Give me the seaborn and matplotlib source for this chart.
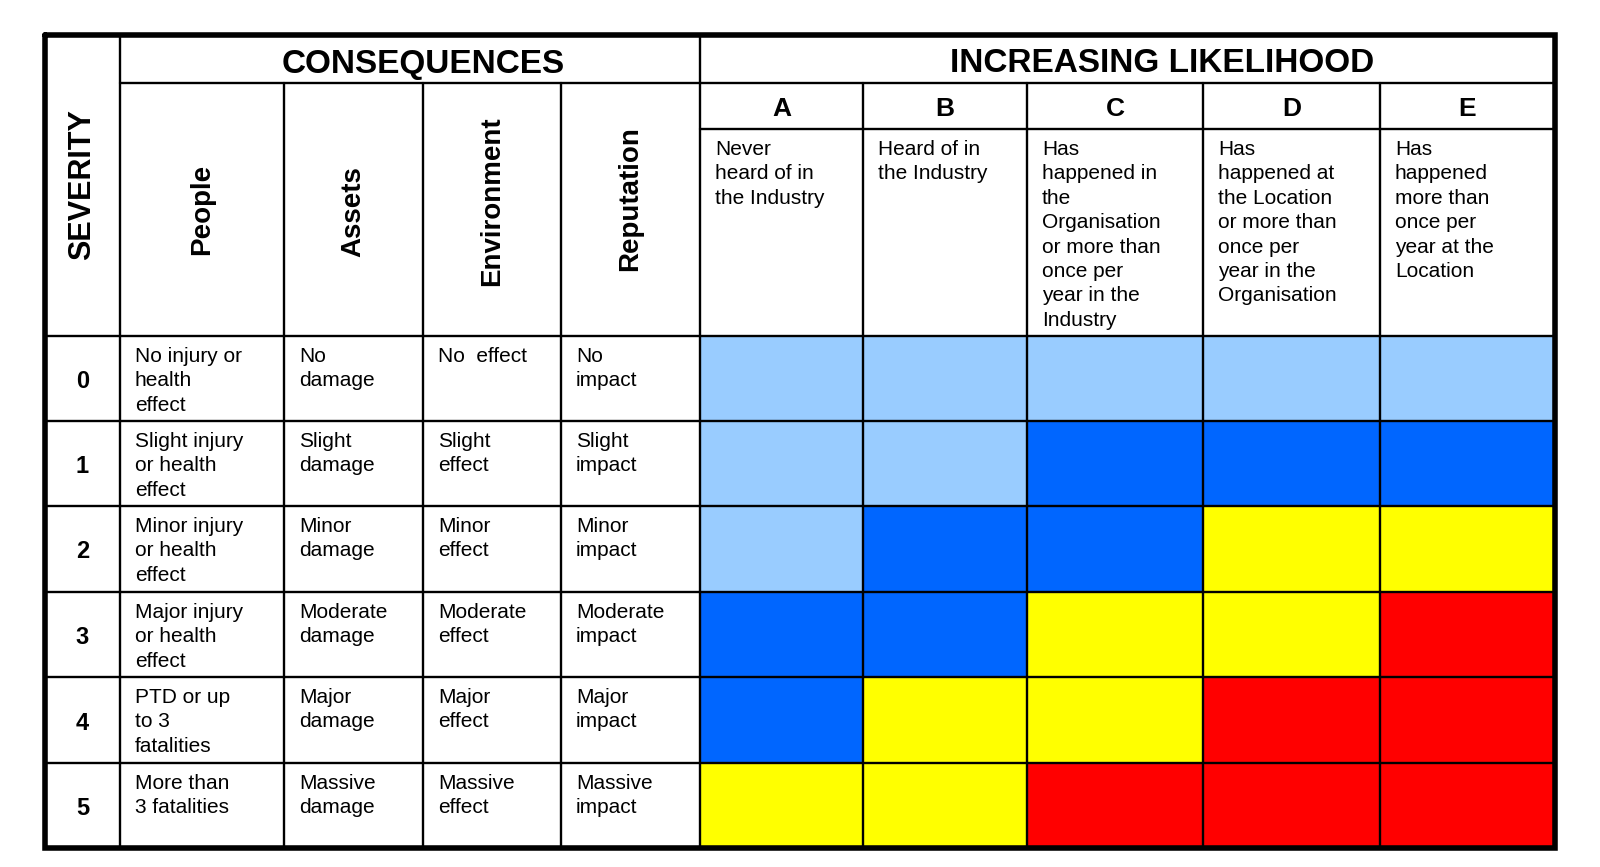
import numpy as np
import pandas as pd
import matplotlib
matplotlib.use("Agg")
import matplotlib.pyplot as plt
from matplotlib.colors import ListedColormap
import seaborn as sns

sns.set_theme(style="white")
plt.rcParams['font.family'] = ['Liberation Sans', 'DejaVu Sans']
plt.rcParams['text.color'] = 'black'

# ---- data ----
severity = ['0', '1', '2', '3', '4', '5']
consequence_cols = ['People', 'Assets', 'Environment', 'Reputation']
people = ['No injury or\nhealth\neffect', 'Slight injury\nor health\neffect',
          'Minor injury\nor health\neffect', 'Major injury\nor health\neffect',
          'PTD or up\nto 3\nfatalities', 'More than\n3 fatalities']
assets = ['No\ndamage', 'Slight\ndamage', 'Minor\ndamage', 'Moderate\ndamage',
          'Major\ndamage', 'Massive\ndamage']
environment = ['No  effect', 'Slight\neffect', 'Minor\neffect', 'Moderate\neffect',
               'Major\neffect', 'Massive\neffect']
reputation = ['No\nimpact', 'Slight\nimpact', 'Minor\nimpact', 'Moderate\nimpact',
              'Major\nimpact', 'Massive\nimpact']
likelihood = ['A', 'B', 'C', 'D', 'E']
likelihood_desc = ['Never\nheard of in\nthe Industry',
                   'Heard of in\nthe Industry',
                   'Has\nhappened in\nthe\nOrganisation\nor more than\nonce per\nyear in the\nIndustry',
                   'Has\nhappened at\nthe Location\nor more than\nonce per\nyear in the\nOrganisation',
                   'Has\nhappened\nmore than\nonce per\nyear at the\nLocation']
# 0 = light blue, 1 = blue, 2 = yellow, 3 = red
risk = [[0, 0, 0, 0, 0],
        [0, 0, 1, 1, 1],
        [0, 1, 1, 2, 2],
        [1, 1, 2, 2, 3],
        [1, 2, 2, 3, 3],
        [2, 2, 3, 3, 3]]
risk_colors = ['#99CCFF', '#0066FF', '#FFFF00', '#FF0000']

# ---- layout (pixels) ----
W, H = 1600, 867
left, right, top, bottom = 45, 1555, 35, 848
sev_x = 120
cons_x = [120, 284, 423, 561, 700]
like_x = [700, 863, 1027, 1203, 1380, 1555]
hdr1_y, hdr2_y, hdr3_y = 83, 129, 336
row_y = [336, 421, 506, 592, 677, 763, 848]

fig = plt.figure(figsize=(W / 100, H / 100), dpi=100)

# risk cells via seaborn heatmap, on an axes covering the likelihood block
hax = fig.add_axes([like_x[0] / W, 1 - row_y[-1] / H,
                    (like_x[-1] - like_x[0]) / W, (row_y[-1] - row_y[0]) / H])
df = pd.DataFrame(risk, index=severity, columns=likelihood)
sns.heatmap(df, ax=hax, cmap=ListedColormap(risk_colors), vmin=-0.5, vmax=3.5,
            cbar=False, xticklabels=False, yticklabels=False, linewidths=0)
xi = np.arange(len(like_x))
yi = np.arange(len(row_y))
hax.set_xscale('function', functions=(lambda v: np.interp(v, xi, like_x),
                                      lambda v: np.interp(v, like_x, xi)))
hax.set_yscale('function', functions=(lambda v: np.interp(v, yi, row_y),
                                      lambda v: np.interp(v, row_y, yi)))
hax.set_xlim(0, 5)
hax.set_ylim(6, 0)
hax.axis('off')

# table lines and text on a pixel-coordinate overlay
ax = fig.add_axes([0, 0, 1, 1])
ax.set_xlim(0, W)
ax.set_ylim(H, 0)
ax.axis('off')

lw = 1.7
ax.plot([sev_x, right], [hdr1_y, hdr1_y], color='black', lw=lw)
ax.plot([like_x[0], right], [hdr2_y, hdr2_y], color='black', lw=lw)
for y in row_y[:-1]:
    ax.plot([left, right], [y, y], color='black', lw=lw)
ax.plot([sev_x, sev_x], [top, bottom], color='black', lw=lw)
ax.plot([like_x[0], like_x[0]], [top, bottom], color='black', lw=lw)
for x in cons_x[1:-1] + like_x[1:-1]:
    ax.plot([x, x], [hdr1_y, bottom], color='black', lw=lw)
ax.plot([left, right, right, left, left], [top, top, bottom, bottom, top],
        color='black', lw=4, solid_joinstyle='miter')

# headers
ax.text((left + sev_x) / 2, 185, 'SEVERITY', rotation=90, ha='center', va='center',
        fontsize=22, fontweight='bold')
ax.text(423, 64, 'CONSEQUENCES', ha='center', va='center', fontsize=24, fontweight='bold')
ax.text(1162, 64, 'INCREASING LIKELIHOOD', ha='center', va='center', fontsize=24,
        fontweight='bold')
head_y = [209, 212, 201, 199]
for i, name in enumerate(consequence_cols):
    ax.text((cons_x[i] + cons_x[i + 1]) / 2, head_y[i], name, rotation=90,
            ha='center', va='center', fontsize=20, fontweight='bold')
for i, letter in enumerate(likelihood):
    ax.text((like_x[i] + like_x[i + 1]) / 2, (hdr1_y + hdr2_y) / 2 + 3, letter,
            ha='center', va='center', fontsize=19, fontweight='bold')
    ax.text(like_x[i] + 15, hdr2_y + 11, likelihood_desc[i], ha='left', va='top',
            fontsize=15, linespacing=1.36)

# body rows
for r, sev in enumerate(severity):
    ax.text((left + sev_x) / 2, (row_y[r] + row_y[r + 1]) / 2 + 3, sev, ha='center',
            va='center', fontsize=17, fontweight='bold')
    for c, col in enumerate([people, assets, environment, reputation]):
        ax.text(cons_x[c] + 15, row_y[r] + 11, col[r], ha='left', va='top',
                fontsize=15, linespacing=1.36)

fig.savefig('out.png', dpi=100)
